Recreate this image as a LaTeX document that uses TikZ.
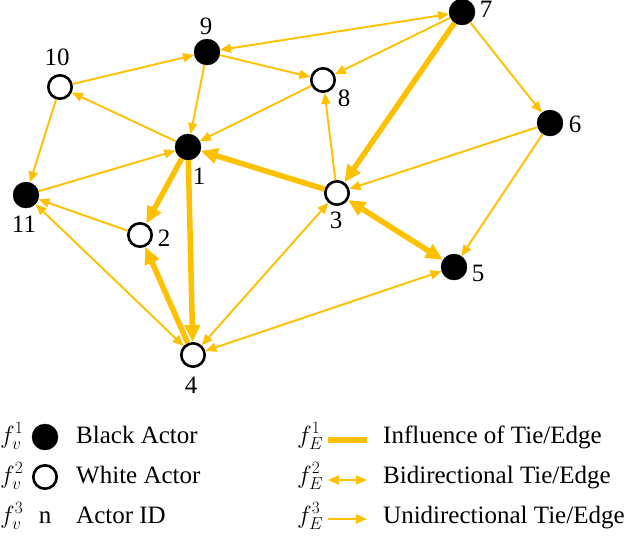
\documentclass[tikz,border=0pt]{standalone}
\usepackage{fontspec}
\setmainfont{Liberation Serif}
\usetikzlibrary{arrows.meta}
\definecolor{tieGold}{RGB}{255,192,0}

\begin{document}
\begin{tikzpicture}[x=1pt,y=-1pt]
		\useasboundingbox (0,0) rectangle (631,539);
		\begin{scope}
			[
				styleBlack/.style={circle, draw, fill=black, minimum size=26pt, inner sep=0pt},
				styleWhite/.style={circle, draw, line width=2.6pt, fill=white,
					minimum size=23.4pt, inner sep=0pt},
				styleId/.style={inner sep=0pt, font=\rmfamily\fontsize{25}{30}\selectfont},
			]
			% actors
			\node(a1)[styleBlack] at (188,147) {};
			\node(a2)[styleWhite] at (140,235) {};
			\node(a3)[styleWhite] at (337,193) {};
			\node(a4)[styleWhite] at (193,355) {};
			\node(a5)[styleBlack] at (454,267) {};
			\node(a6)[styleBlack] at (550,123) {};
			\node(a7)[styleBlack] at (462,12) {};
			\node(a8)[styleWhite] at (323,80) {};
			\node(a9)[styleBlack] at (207,52) {};
			\node(a10)[styleWhite] at (60,87) {};
			\node(a11)[styleBlack] at (26,195) {};

			% actor ids
			\node(id1)[styleId] at (199,176) {1};
			\node(id2)[styleId] at (164,238) {2};
			\node(id3)[styleId] at (336,220) {3};
			\node(id4)[styleId] at (191,385) {4};
			\node(id5)[styleId] at (478,273) {5};
			\node(id6)[styleId] at (575,124) {6};
			\node(id7)[styleId] at (486,9) {7};
			\node(id8)[styleId] at (344,98) {8};
			\node(id9)[styleId] at (206,26) {9};
			\node(id10)[styleId] at (57,57) {10};
			\node(id11)[styleId] at (24,224) {11};

			% legend, actors
			\node(fv1)[styleId, anchor=base west] at (0,443) {$f_v^1$};
			\node(fv2)[styleId, anchor=base west] at (0,483) {$f_v^2$};
			\node(fv3)[styleId, anchor=base west] at (0,523) {$f_v^3$};
			\node(lgBlack)[styleBlack] at (45,437) {};
			\node(lgWhite)[styleWhite] at (45,477) {};
			\node(lgId)[styleId, anchor=base] at (45,523) {n};
			\node(txBlack)[styleId, anchor=base west] at (76,443) {Black Actor};
			\node(txWhite)[styleId, anchor=base west] at (76,483) {White Actor};
			\node(txId)[styleId, anchor=base west] at (76,523) {Actor ID};

			% legend, ties
			\node(fe1)[styleId, anchor=base west] at (297,443) {$f_E^1$};
			\node(fe2)[styleId, anchor=base west] at (297,483) {$f_E^2$};
			\node(fe3)[styleId, anchor=base west] at (297,523) {$f_E^3$};
			\node(txInf)[styleId, anchor=base west] at (383,443) {Influence of Tie/Edge};
			\node(txBi)[styleId, anchor=base west] at (383,483) {Bidirectional Tie/Edge};
			\node(txUni)[styleId, anchor=base west] at (383,523) {Unidirectional Tie/Edge};
			\coordinate (inf0) at (328,440);
			\coordinate (inf1) at (367,440);
			\coordinate (bi0) at (328,480);
			\coordinate (bi1) at (367,480);
			\coordinate (uni0) at (328,519);
			\coordinate (uni1) at (367,519);
		\end{scope}

		\begin{scope}
			[ tie/.style = {draw=tieGold, line width=1.9pt, -{Triangle[length=11pt,width=9pt]}},
			  tieBoth/.style = {tie, {Triangle[length=11pt,width=9pt]}-{Triangle[length=11pt,width=9pt]}},
			  influence/.style = {draw=tieGold, line width=5.5pt, -{Triangle[length=17pt,width=15pt]}},
			  influenceBoth/.style = {influence, {Triangle[length=17pt,width=15pt]}-{Triangle[length=17pt,width=15pt]}},
			]
			\path
			(a9) edge[tie]               (a8)
			(a9) edge[tie]               (a1)
			(a10) edge[tie]              (a9)
			(a1) edge[tie]               (a10)
			(a8) edge[tie]               (a1)
			(a10) edge[tie]              (a11)
			(a11) edge[tie]              (a1)
			(a2) edge[tie]               (a11)
			(a7) edge[tie]               (a8)
			(a7) edge[tie]               (a6)
			(a6) edge[tie]               (a3)
			(a6) edge[tie]               (a5)
			(a3) edge[tie]               (a8)

			(a7) edge[tieBoth]           (a9)
			(a11) edge[tieBoth]          (a4)
			(a4) edge[tieBoth]           (a5)
			(a4) edge[tieBoth]           (a3)

			(a7) edge[influence]         (a3)
			(a3) edge[influence]         (a1)
			(a1) edge[influence]         (a2)
			(a1) edge[influence]         (a4)
			(a4) edge[influence]         (a2)
			(a3) edge[influenceBoth]     (a5);

			\draw[draw=tieGold, line width=5.5pt] (inf0) -- (inf1);
			\draw[tieBoth] (bi0) -- (bi1);
			\draw[tie] (uni0) -- (uni1);
		\end{scope}
	\end{tikzpicture}
\end{document}
